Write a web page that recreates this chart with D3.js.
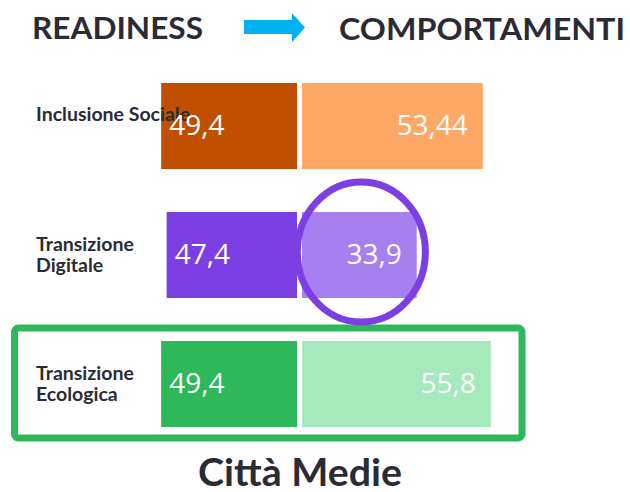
<!DOCTYPE html>
<html>
<head>
<meta charset="utf-8">
<script src="https://cdn.jsdelivr.net/npm/d3@7"></script>
<style>
  body { margin: 0; background: #fff; }
  svg { display: block; }
</style>
</head>
<body>
<div id="chart"></div>
<script>
// data
const categories = ["Inclusione Sociale", "Transizione Digitale", "Transizione Ecologica"];
const labelLines = [["Inclusione Sociale"], ["Transizione", "Digitale"], ["Transizione", "Ecologica"]];
const readiness = [49.4, 47.4, 49.4];
const comportamenti = [53.44, 33.9, 55.8];
const readinessLabels = ["49,4", "47,4", "49,4"];
const comportamentiLabels = ["53,44", "33,9", "55,8"];
const darkColors = ["#c05000", "#7b3fe4", "#2eb85a"];
const lightColors = ["#ffa764", "#a680ef", "#a6e9bc"];
const highlighted = "Transizione Digitale";
const boxed = "Transizione Ecologica";

const width = 630, height = 492;
const textColor = "#2b2b36";

const svg = d3.select("#chart")
    .append("svg")
    .attr("width", width)
    .attr("height", height);

const y = d3.scaleBand()
    .domain(categories)
    .range([83, 427])
    .paddingInner(1 / 3)
    .paddingOuter(0);

// readiness grows leftwards from the split, comportamenti rightwards
const splitX = 297;
const gap = 5;
const xLeft = d3.scaleLinear().domain([0, 60]).range([0, 165]);
const xRight = d3.scaleLinear().domain([0, 60]).range([0, 203]);

const rows = categories.map((c, i) => ({
    cat: c,
    lines: labelLines[i],
    r: readiness[i],
    c: comportamenti[i],
    rl: readinessLabels[i],
    cl: comportamentiLabels[i],
    dark: darkColors[i],
    light: lightColors[i]
}));

// header
const header = svg.append("g").attr("id", "header");
header.append("text")
    .attr("x", 32).attr("y", 39)
    .attr("textLength", 171).attr("lengthAdjust", "spacingAndGlyphs")
    .style("font-family", "Lato, sans-serif")
    .style("font-weight", 700)
    .style("font-size", "31px")
    .attr("fill", textColor)
    .text("READINESS");
header.append("path")
    .attr("d", "M244,20 H292 V13 L305,27.5 L292,42 V34 H244 Z")
    .attr("fill", "#00b0f0");
header.append("text")
    .attr("x", 339).attr("y", 40)
    .attr("textLength", 286).attr("lengthAdjust", "spacingAndGlyphs")
    .style("font-family", "Lato, sans-serif")
    .style("font-weight", 700)
    .style("font-size", "31px")
    .attr("fill", textColor)
    .text("COMPORTAMENTI");

// green frame around the boxed row
const boxY = y(boxed);
svg.append("rect")
    .attr("x", 14.5)
    .attr("y", boxY - 13)
    .attr("width", 507.5)
    .attr("height", y.bandwidth() + 24)
    .attr("rx", 4)
    .attr("fill", "none")
    .attr("stroke", "#2eb85a")
    .attr("stroke-width", 7);

const row = svg.selectAll("g.row")
    .data(rows)
    .enter()
    .append("g")
    .attr("class", "row");

row.append("rect")
    .attr("x", d => splitX - xLeft(d.r))
    .attr("y", d => y(d.cat))
    .attr("width", d => xLeft(d.r))
    .attr("height", y.bandwidth())
    .attr("fill", d => d.dark);

row.append("rect")
    .attr("x", splitX + gap)
    .attr("y", d => y(d.cat))
    .attr("width", d => xRight(d.c))
    .attr("height", y.bandwidth())
    .attr("fill", d => d.light);

// category labels
row.append("text")
    .attr("y", d => y(d.cat) + y.bandwidth() / 2 + (d.lines.length === 1 ? -5 : -4))
    .style("font-family", "Lato, sans-serif")
    .style("font-weight", 700)
    .style("font-size", "19.5px")
    .attr("fill", textColor)
    .selectAll("tspan")
    .data(d => d.lines)
    .enter()
    .append("tspan")
    .attr("x", 36)
    .attr("dy", (l, i) => i === 0 ? 0 : 21)
    .text(l => l);

// value labels
row.append("text")
    .attr("x", d => splitX - xLeft(d.r) + 8)
    .attr("y", d => y(d.cat) + y.bandwidth() / 2 + 9)
    .style("font-family", "'Open Sans', sans-serif")
    .style("font-size", "28px")
    .attr("fill", "#fff")
    .text(d => d.rl);

row.append("text")
    .attr("x", d => splitX + gap + xRight(d.c) - 15)
    .attr("y", d => y(d.cat) + y.bandwidth() / 2 + 9)
    .attr("text-anchor", "end")
    .style("font-family", "'Open Sans', sans-serif")
    .style("font-size", "28px")
    .attr("fill", "#fff")
    .text(d => d.cl);

// highlight ring round the weak comportamenti bar
const hi = rows.find(d => d.cat === highlighted);
svg.append("ellipse")
    .attr("cx", splitX + gap + xRight(hi.c) / 2 + 2)
    .attr("cy", y(hi.cat) + y.bandwidth() / 2 - 3)
    .attr("rx", 64)
    .attr("ry", 70)
    .attr("fill", "none")
    .attr("stroke", "#7b3fe4")
    .attr("stroke-width", 7);

// footer
svg.append("text")
    .attr("x", 198).attr("y", 486)
    .attr("textLength", 204).attr("lengthAdjust", "spacingAndGlyphs")
    .style("font-family", "Lato, sans-serif")
    .style("font-weight", 700)
    .style("font-size", "38px")
    .attr("fill", textColor)
    .text("Città Medie");
</script>
</body>
</html>
